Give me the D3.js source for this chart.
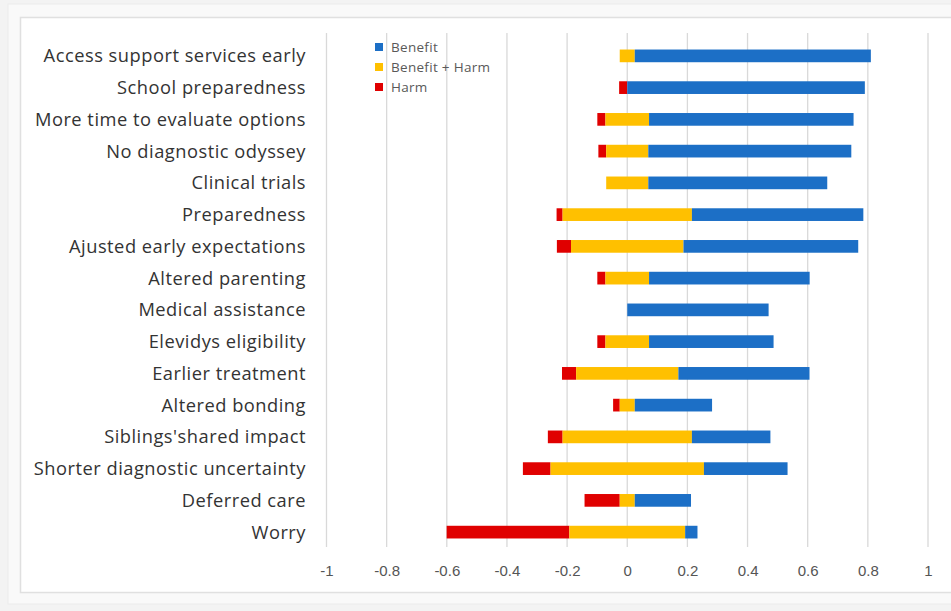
<!DOCTYPE html>
<html>
<head>
<meta charset="utf-8">
<script src="https://cdn.jsdelivr.net/npm/d3@7"></script>
<style>
  body { margin: 0; background: #f3f3f3; font-family: "Open Sans", "Liberation Sans", sans-serif; }
  #chart { width: 951px; height: 611px; }
  .grid line { stroke: #d9d9d9; stroke-width: 1.3; }
  .cat { fill: #333; font-size: 18.3px; letter-spacing: 0.5px; }
  .tick text { fill: #555; font-size: 15px; }
  .legend text { fill: #595959; font-size: 13.5px; letter-spacing: 0.3px; }
</style>
</head>
<body>
<div id="chart"></div>
<script>
// Categories, top to bottom
var categories = [
    "Access support services early",
    "School preparedness",
    "More time to evaluate options",
    "No diagnostic odyssey",
    "Clinical trials",
    "Preparedness",
    "Ajusted early expectations",
    "Altered parenting",
    "Medical assistance",
    "Elevidys eligibility",
    "Earlier treatment",
    "Altered bonding",
    "Siblings'shared impact",
    "Shorter diagnostic uncertainty",
    "Deferred care",
    "Worry"
];

// share of respondents
var harm        = [0, 0.027, 0.027, 0.026, 0, 0.02, 0.047, 0.027, 0, 0.027, 0.047, 0.022, 0.049, 0.092, 0.117, 0.408];
var benefitHarm = [0.05, 0, 0.145, 0.14, 0.14, 0.43, 0.374, 0.145, 0, 0.145, 0.34, 0.05, 0.43, 0.51, 0.05, 0.385];
var benefit     = [0.785, 0.79, 0.68, 0.675, 0.595, 0.57, 0.581, 0.534, 0.47, 0.414, 0.436, 0.257, 0.261, 0.278, 0.187, 0.041];

var tickValues = [-1, -0.8, -0.6, -0.4, -0.2, 0, 0.2, 0.4, 0.6, 0.8, 1];

var seriesNames = ["Benefit", "Benefit + Harm", "Harm"];
var colors = { "Benefit": "#1c6fc6", "Benefit + Harm": "#ffc000", "Harm": "#e00000" };

var width = 951, height = 611;
var svg = d3.select("#chart").append("svg")
    .attr("width", width)
    .attr("height", height);

// frame
svg.append("rect")
    .attr("x", 8).attr("y", 4).attr("width", 960).attr("height", 600)
    .attr("fill", "#f9f9f9").attr("stroke", "#ebebeb");
svg.append("rect")
    .attr("x", 20.5).attr("y", 17.5).attr("width", 950).attr("height", 575)
    .attr("fill", "#fff").attr("stroke", "#e0e0e0").attr("stroke-width", 1.5);

var x = d3.scaleLinear().domain([-1, 1]).range([326.5, 928]);
var y = d3.scaleBand().domain(categories).range([40, 548]).paddingInner(0.6).paddingOuter(0.3);

// gridlines
svg.append("g").attr("class", "grid")
    .selectAll("line")
    .data(tickValues)
    .enter().append("line")
        .attr("x1", function(d) { return x(d); })
        .attr("x2", function(d) { return x(d); })
        .attr("y1", 33)
        .attr("y2", 547);

// axis labels (plain hyphen, like the original)
var xAxis = d3.axisBottom(x).tickValues(tickValues).tickSize(0).tickPadding(0)
    .tickFormat(function(d) { return String(+d.toFixed(1)); });
var ax = svg.append("g").attr("transform", "translate(0,565)").call(xAxis);
ax.select(".domain").remove();
ax.selectAll("text").attr("font-family", "inherit").attr("dy", "0.71em");

// build segments
var rows = categories.map(function(c, i) {
    var half = benefitHarm[i] / 2;
    return [
        { cat: c, key: "Harm", x0: -half - harm[i], x1: -half },
        { cat: c, key: "Benefit + Harm", x0: -half, x1: half },
        { cat: c, key: "Benefit", x0: half, x1: half + benefit[i] }
    ];
});
var segs = [].concat.apply([], rows).filter(function(d) { return d.x1 - d.x0 > 0; });

svg.append("g").attr("id", "bars")
    .selectAll("rect")
    .data(segs)
    .enter().append("rect")
        .attr("x", function(d) { return x(d.x0); })
        .attr("width", function(d) { return x(d.x1) - x(d.x0); })
        .attr("y", function(d) { return y(d.cat); })
        .attr("height", y.bandwidth())
        .attr("fill", function(d) { return colors[d.key]; });

// category labels
svg.append("g")
    .selectAll("text")
    .data(categories)
    .enter().append("text")
        .attr("class", "cat")
        .attr("x", 306)
        .attr("y", function(d) { return y(d) + y.bandwidth() / 2; })
        .attr("dy", "0.35em")
        .attr("text-anchor", "end")
        .text(function(d) { return d; });

// legend
var legend = svg.append("g").attr("class", "legend")
    .selectAll("g")
    .data(seriesNames)
    .enter().append("g")
        .attr("transform", function(d, i) { return "translate(375," + (47 + i * 20) + ")"; });
legend.append("rect")
    .attr("x", 0).attr("y", -4).attr("width", 8).attr("height", 8)
    .attr("fill", function(d) { return colors[d]; });
legend.append("text")
    .attr("x", 16).attr("dy", "0.35em")
    .text(function(d) { return d; });
</script>
</body>
</html>
